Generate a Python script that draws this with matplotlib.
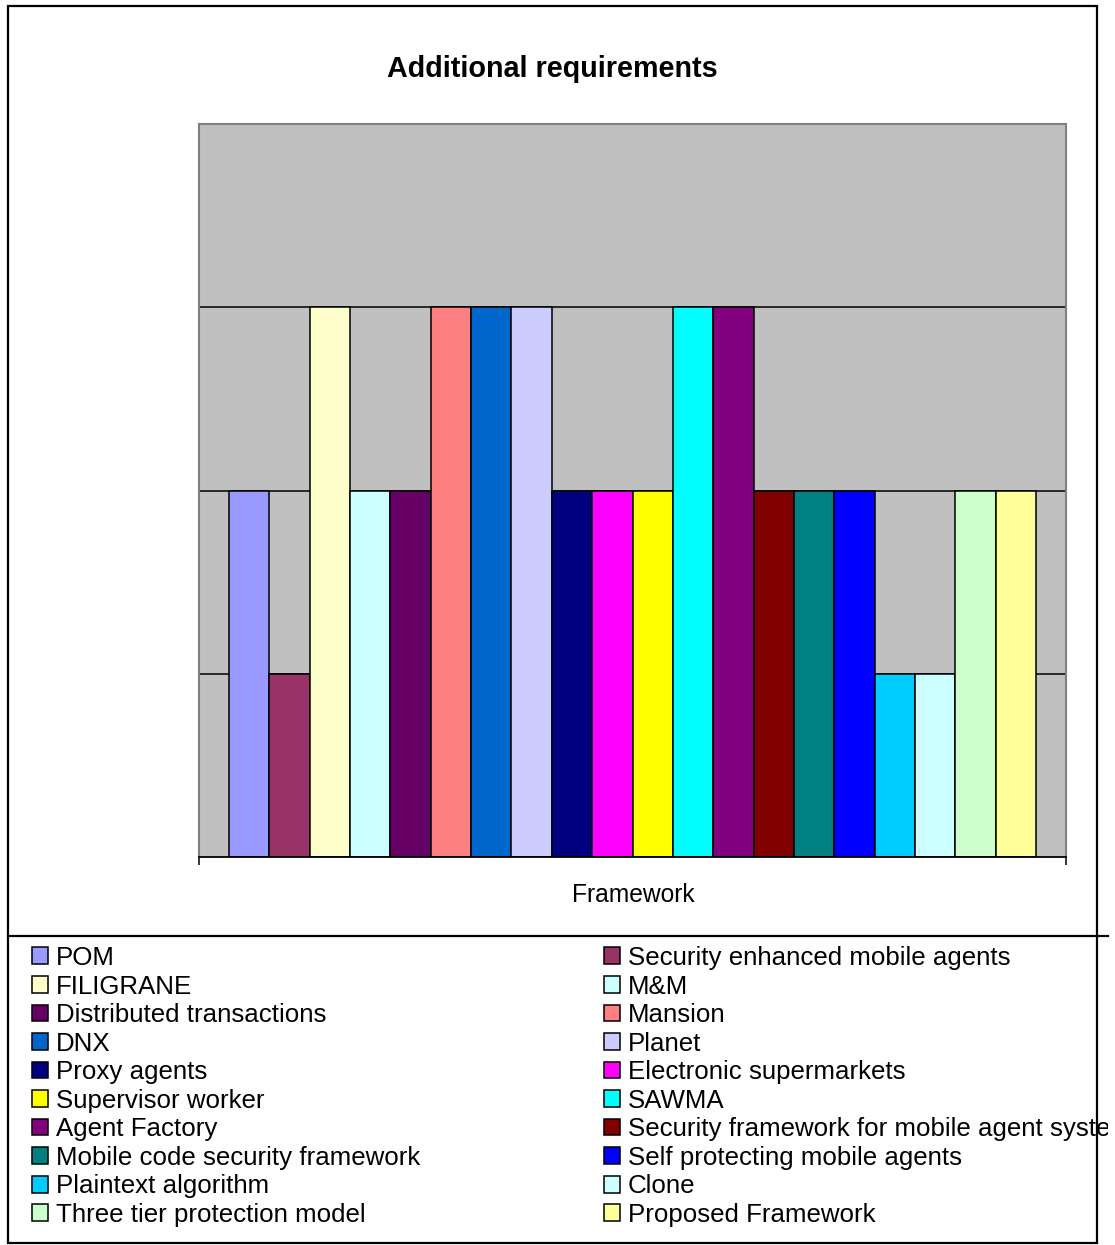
import matplotlib
matplotlib.use("Agg")
import matplotlib.pyplot as plt
from matplotlib.patches import Rectangle
from matplotlib.lines import Line2D
from matplotlib.transforms import Bbox

frameworks = ["POM", "Security enhanced mobile agents", "FILIGRANE", "M&M",
              "Distributed transactions", "Mansion", "DNX", "Planet",
              "Proxy agents", "Electronic supermarkets", "Supervisor worker", "SAWMA",
              "Agent Factory", "Security framework for mobile agent systems",
              "Mobile code security framework", "Self protecting mobile agents",
              "Plaintext algorithm", "Clone", "Three tier protection model",
              "Proposed Framework"]
values = [2, 1, 3, 2, 2, 3, 3, 3, 2, 2, 2, 3, 3, 2, 2, 2, 1, 1, 2, 2]
colors = ["#9999FF", "#993366", "#FFFFCC", "#CCFFFF", "#660066", "#FF8080",
          "#0066CC", "#CCCCFF", "#000080", "#FF00FF", "#FFFF00", "#00FFFF",
          "#800080", "#800000", "#008080", "#0000FF", "#00CCFF", "#CCFFFF",
          "#CCFFCC", "#FFFF99"]

W, H = 1115, 1245

def main():
    plt.rcParams['font.family'] = ['Liberation Sans', 'DejaVu Sans']
    fig = plt.figure(figsize=(W / 100, H / 100), dpi=100)
    ax = fig.add_axes([199 / W, 1 - 857 / H, 867 / W, 733 / H])
    ax.set_facecolor("#C0C0C0")

    bars = ax.bar(range(len(values)), values, width=1.0, color=colors,
                  edgecolor="black", linewidth=1.1, zorder=3)
    for yv in [1, 2, 3]:
        ax.axhline(yv, color="black", linewidth=1.1, zorder=1)

    lo, hi = -1.24, len(values) - 1 + 1.24
    ax.set_xlim(lo, hi)
    ax.set_ylim(0, 4)
    ax.set_yticks([])
    ax.set_xticks([lo, hi])
    ax.set_xticklabels([])
    ax.tick_params(axis="x", direction="out", length=6, width=1.1, color="black")
    for s in ["left", "top", "right"]:
        ax.spines[s].set_color("#808080")
        ax.spines[s].set_linewidth(1.5)
    ax.spines["bottom"].set_color("black")
    ax.spines["bottom"].set_linewidth(1.3)
    ax.spines["bottom"].set_zorder(4)

    fig.text(552 / W, 1 - 69 / H, "Additional requirements", ha="center", va="center",
             fontsize=20.7, fontweight="bold")
    fig.text(633 / W, 1 - 895 / H, "Framework", ha="center", va="center", fontsize=17.7)

    # outer border and legend separator
    fig.patches.append(Rectangle((8 / W, 1 - 1243 / H), (1097 - 8) / W, (1243 - 6) / H,
                                 transform=fig.transFigure, fill=False,
                                 edgecolor="black", linewidth=1.6))
    fig.lines.append(Line2D([8 / W, 1108 / W], [1 - 936 / H, 1 - 936 / H],
                            transform=fig.transFigure, color="black", linewidth=1.6))

    handles = list(bars)
    # legend text is cut at the legend box edge, as in the original
    clip = Bbox.from_extents(0, 0, 1108, H)
    for col, x0 in [(0, 32), (1, 604)]:
        leg = fig.legend(handles[col::2], frameworks[col::2], loc="upper left",
                         bbox_to_anchor=(x0 / W, 1 - 946 / H), frameon=False,
                         fontsize=18.6, handlelength=0.63, handleheight=0.63,
                         handletextpad=0.3, labelspacing=0.175, borderpad=0,
                         borderaxespad=0)
        for t in leg.get_texts():
            t.set_clip_box(clip)
            t.set_clip_on(True)

    fig.savefig("out.png", dpi=100)
    return 0

if __name__ == "__main__":
    main()
